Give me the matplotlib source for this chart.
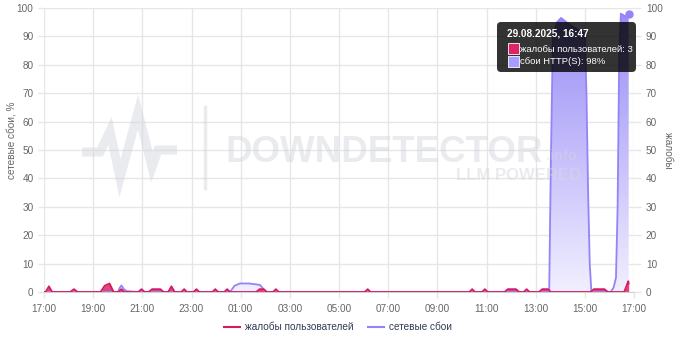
import matplotlib
matplotlib.use("Agg")
import matplotlib.pyplot as plt
import numpy as np
from matplotlib.patches import PathPatch, FancyBboxPatch, Rectangle
from matplotlib.colors import LinearSegmentedColormap
from matplotlib.lines import Line2D

plt.rcParams['font.family'] = ['Liberation Sans', 'DejaVu Sans']

# ---------------- data ----------------
x_tick_labels = ["17:00", "19:00", "21:00", "23:00", "01:00", "03:00", "05:00",
                 "07:00", "09:00", "11:00", "13:00", "15:00", "17:00"]
y_ticks = [0, 10, 20, 30, 40, 50, 60, 70, 80, 90, 100]

complaint_times = ["17:00", "17:04", "17:12", "17:20", "18:04", "18:13", "18:22",
                   "19:18", "19:28", "19:40", "19:50", "20:02", "20:09", "20:16",
                   "20:50", "20:58", "21:06", "21:15", "21:24", "21:44", "21:52",
                   "22:03", "22:11", "22:19", "22:35", "22:42", "22:49", "23:05",
                   "23:12", "23:19", "23:51", "23:58", "00:05", "00:20", "00:27",
                   "00:34", "01:38", "01:46", "01:56", "02:04", "02:19", "02:26",
                   "02:33", "06:03", "06:10", "06:17", "10:18", "10:25", "10:32",
                   "10:49", "10:56", "11:03", "11:44", "11:52", "12:12", "12:20",
                   "12:31", "12:38", "12:45", "13:08", "13:16", "13:30", "13:37",
                   "15:14", "15:22", "15:48", "15:56", "16:36", "16:46", "16:47"]
complaint_values = [0, 0, 2, 0, 0, 1, 0,
                    0, 2.2, 3, 0, 0, 1, 0,
                    0, 1, 0, 0, 1, 1, 0,
                    0, 2, 0, 0, 1, 0, 0,
                    1, 0, 0, 1, 0, 0, 1,
                    0, 0, 1, 1, 0, 0, 1,
                    0, 0, 1, 0, 0, 1, 0,
                    0, 1, 0, 0, 1, 1, 0,
                    0, 1, 0, 0, 1, 1, 0,
                    0, 1, 1, 0, 0, 3.8, 3]

network_times = ["17:00", "20:00", "20:05", "20:09", "20:15", "20:22", "20:50",
                 "00:34", "00:45", "00:58", "01:20", "01:47", "02:02", "13:33",
                 "13:37", "13:42", "13:52", "14:02", "14:15", "14:35", "15:00",
                 "15:04", "15:08", "15:12", "15:16", "16:03", "16:10", "16:16",
                 "16:20", "16:24", "16:28", "16:34", "16:40", "16:47"]
network_values = [0, 0, 1.5, 2.3, 1.0, 0.3, 0,
                  0, 2.2, 3, 3, 2.5, 0, 0,
                  45, 90, 95, 96.5, 95, 93, 91,
                  70, 35, 10, 0, 0, 1.5, 5,
                  30, 85, 98, 97.5, 97, 98]

complaints_label = "жалобы пользователей"
network_label = "сетевые сбои"
left_label = "сетевые сбои, %"
right_label = "жалобы"
tooltip_title = "29.08.2025, 16:47"
tooltip_rows = ["жалобы пользователей: 3", "сбои HTTP(S): 98%"]


def to_hours(t):
    h, m = map(int, t.split(":"))
    v = h + m / 60 - 17
    if v < 0:
        v += 24
    return v


cx = np.array([to_hours(t) for t in complaint_times])
cy = np.array(complaint_values, dtype=float)
nx = np.array([to_hours(t) for t in network_times])
ny = np.array(network_values, dtype=float)

W, H = 680, 340
FS = 7.2
fig = plt.figure(figsize=(W / 100, H / 100), dpi=100)
fig.patch.set_facecolor("white")

# main axes
L, R, B, T = 44, 634, 292, 8
ax = fig.add_axes([L / W, 1 - B / H, (R - L) / W, (B - T) / H], zorder=1)
ax.patch.set_alpha(0)
ax.set_xlim(0, 24)
ax.set_ylim(0, 100)

grid_c = "#e6e6e6"
ax.set_xticks(np.arange(0, 25, 2))
ax.set_xticklabels(x_tick_labels)
ax.set_yticks(y_ticks)
ax.grid(True, color=grid_c, lw=1)
ax.set_axisbelow(True)
for s in ["top", "right", "left"]:
    ax.spines[s].set_visible(False)
ax.spines["bottom"].set_color("#d0d0d0")
ax.tick_params(axis="both", colors=grid_c, labelcolor="#666666", labelsize=FS,
               length=4, width=1)
ax.tick_params(axis="x", pad=5)

ax2 = ax.twinx()
ax2.set_ylim(0, 100)
ax2.set_yticks(y_ticks)
for s in ["top", "right", "left", "bottom"]:
    ax2.spines[s].set_visible(False)
ax2.tick_params(axis="y", colors=grid_c, labelcolor="#666666", labelsize=FS,
                length=5, width=1)

# network fill with gradient
purple_line = "#9384f7"
fill = ax.fill_between(nx, ny, 0, color="none", lw=0)
path = fill.get_paths()[0]
patch = PathPatch(path, transform=ax.transData, facecolor="none", edgecolor="none")
ax.add_patch(patch)
cmap = LinearSegmentedColormap.from_list("g", [(0.945, 0.937, 1.0), (0.59, 0.54, 0.965)])
grad = np.linspace(0, 1, 256).reshape(-1, 1)
im = ax.imshow(grad, extent=[0, 24, 0, 100], origin="lower", aspect="auto",
               cmap=cmap, zorder=1, interpolation="bilinear")
im.set_clip_path(patch)
ax.plot(nx, ny, color=purple_line, lw=1.3, zorder=3)
ax.plot(nx[-1], ny[-1], "o", color=purple_line, ms=5, zorder=5)

# complaints
red = "#d81b60"
ax.fill_between(cx, cy, 0, color="#d9336e", alpha=0.9, lw=0, zorder=2)
ax.plot(cx, cy, color=red, lw=1.3, zorder=4)

ax.set_xlim(0, 24)
ax.set_ylim(0, 100)

fig.text(12 / W, 1 - 140 / H, left_label, rotation=90, ha="center", va="center",
         fontsize=FS, color="#666666")
fig.text(668 / W, 1 - 150 / H, right_label, rotation=-90, ha="center", va="center",
         fontsize=FS, color="#666666")

# legend
handles = [Line2D([], [], color=red, lw=1.5), Line2D([], [], color=purple_line, lw=1.5)]
fig.legend(handles, [complaints_label, network_label], loc="center",
           bbox_to_anchor=(338 / W, 1 - 327 / H), ncol=2, frameon=False,
           fontsize=FS, handlelength=1.6, handletextpad=0.5, columnspacing=1.4,
           labelcolor="#333a55")

# watermark overlay (pixel coords), semi-transparent over the data
wmx = fig.add_axes([0, 0, 1, 1], zorder=5)
wmx.set_xlim(0, W)
wmx.set_ylim(H, 0)
wmx.axis("off")
wmx.patch.set_alpha(0)
wm = "#d6d8e0"
wa = 0.5
px = [82, 100, 110, 120, 138, 152, 158, 177]
py = [152, 152, 131, 178, 112, 167, 150, 150]
wmx.plot(px, py, color=wm, alpha=wa, lw=6.5, solid_joinstyle="miter", solid_capstyle="butt")
wmx.plot([205, 205], [107, 188], color=wm, alpha=wa, lw=2.5)
wmx.text(225, 162, "DOWNDETECTOR", fontsize=26.5, fontweight="bold", color=wm,
         alpha=wa, ha="left", va="baseline")
wmx.text(546, 160, ".info", fontsize=10.5, fontweight="bold", color=wm, alpha=0.4,
         ha="left", va="baseline")
wmx.text(581, 180, "LLM POWERED", fontsize=12, fontweight="bold", color=wm,
         alpha=wa, ha="right", va="baseline")

# foreground overlay tooltip
fg = fig.add_axes([0, 0, 1, 1], zorder=10)
fg.set_xlim(0, W)
fg.set_ylim(H, 0)
fg.axis("off")
fg.patch.set_alpha(0)
box = FancyBboxPatch((501, 26), 131, 42, boxstyle="round,pad=4,rounding_size=4",
                     facecolor=(0, 0, 0, 0.8), edgecolor="none")
fg.add_patch(box)
fg.text(507, 33, tooltip_title, color="white", fontsize=7.2, fontweight="bold",
        ha="left", va="center")
fg.add_patch(Rectangle((508, 43), 11, 11, facecolor="#e0226a", edgecolor="white", lw=0.6))
fg.add_patch(Rectangle((508, 56), 11, 11, facecolor="#a79cff", edgecolor="white", lw=0.6))
fg.text(520, 49, tooltip_rows[0], color="white", fontsize=6.8, ha="left", va="center")
fg.text(520, 62, tooltip_rows[1], color="white", fontsize=6.8, ha="left", va="center")

fig.savefig("out.png", dpi=100)
